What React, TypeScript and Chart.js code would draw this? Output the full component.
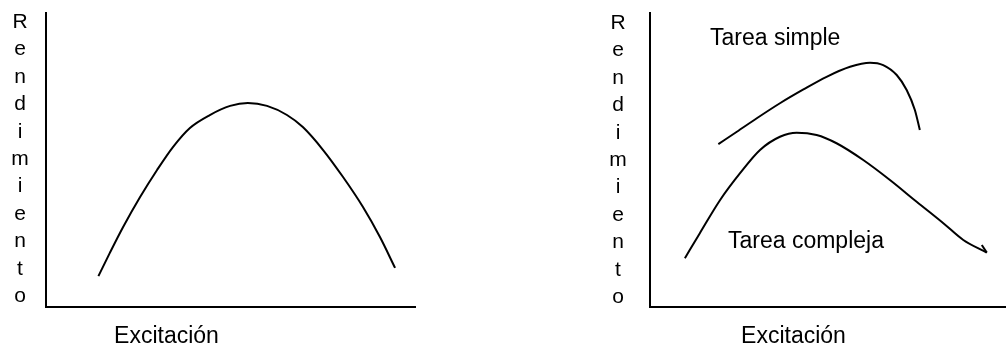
import React, { useEffect, useRef } from "react";
import { Chart, registerables } from "chart.js";

Chart.register(...registerables);

// ---- Data ----
const yAxisLetters = ["R", "e", "n", "d", "i", "m", "i", "e", "n", "t", "o"];
const xAxisLabel = "Excitación";
const simpleLabel = "Tarea simple";
const complexLabel = "Tarea compleja";

// Left panel: inverted-U curve (excitación vs rendimiento), arbitrary 0-100 units
const leftX = [14.2, 17.3, 20.9, 25.5, 30.1, 34.4, 39.0, 44.4, 49.9, 54.7, 59.9, 65.3, 69.6, 75.1, 80.5, 85.9, 90.5, 94.6];
const leftY = [10.5, 18.4, 27.2, 37.4, 46.6, 54.4, 60.9, 65.3, 68.4, 69.4, 68.4, 65.3, 61.2, 53.4, 44.2, 34.0, 23.8, 13.3];

// Right panel: simple task
const simpleX = [19.2, 24.4, 30.0, 36.5, 43.1, 49.6, 56.2, 61.8, 65.5, 69.3, 72.1, 74.4, 75.8];
const simpleY = [55.4, 59.6, 64.2, 69.3, 74.0, 78.3, 81.7, 83.1, 82.3, 78.9, 73.8, 67.0, 60.2];

// Right panel: complex task
const complexX = [9.8, 14.0, 19.7, 25.3, 30.9, 36.5, 41.2, 46.8, 52.4, 59.9, 67.4, 74.9, 82.4, 88.0, 94.6];
const complexY = [16.6, 25.1, 36.4, 45.5, 53.4, 57.9, 59.3, 58.5, 55.7, 50.0, 43.2, 35.8, 28.5, 22.8, 18.5];

// small arrow hook at the end of the complex-task curve
const arrowX = [93.2, 94.6];
const arrowY = [21.1, 18.5];

const FONT = '"Liberation Sans", Arial, sans-serif';

type TextItem = {
  text: string;
  dx: number; // relative to chartArea.left
  y: number;
  align: CanvasTextAlign;
  size: number;
};

const textPlugin = {
  id: "freeText",
  afterDraw(chart: any, _args: any, opts: any) {
    const { ctx, chartArea } = chart;
    const items: TextItem[] = opts.items || [];
    ctx.save();
    ctx.fillStyle = "#000";
    ctx.textBaseline = "alphabetic";
    for (const it of items) {
      ctx.font = `${it.size}px ${FONT}`;
      ctx.textAlign = it.align;
      ctx.fillText(it.text, chartArea.left + it.dx, it.y);
    }
    ctx.restore();
  },
};

function pts(xs: number[], ys: number[]) {
  return xs.map((x, i) => ({ x, y: ys[i] }));
}

function lineDs(xs: number[], ys: number[], mono = true) {
  return {
    data: pts(xs, ys),
    borderColor: "#000",
    borderWidth: 2,
    pointRadius: 0,
    fill: false,
    cubicInterpolationMode: mono ? ("monotone" as const) : ("default" as const),
    tension: mono ? 0.4 : 0,
  };
}

function makeConfig(datasets: any[], padding: any, items: TextItem[]) {
  const axis = (extra: any = {}) => ({
    type: "linear" as const,
    min: 0,
    max: 100,
    display: true,
    grid: { display: false, drawTicks: false },
    ticks: { display: false },
    border: { display: true, color: "#000", width: 2 },
    ...extra,
  });
  return {
    type: "line" as const,
    data: { datasets },
    options: {
      animation: false as const,
      responsive: false,
      maintainAspectRatio: false,
      layout: { padding },
      plugins: {
        legend: { display: false },
        tooltip: { enabled: false },
        freeText: { items },
      },
      scales: {
        x: axis(),
        y: axis(),
      },
    },
    plugins: [textPlugin],
  };
}

function letterItems(dx: number, firstBaseline: number, step: number): TextItem[] {
  return yAxisLetters.map((t, i) => ({
    text: t,
    dx,
    y: firstBaseline + i * step,
    align: "center" as CanvasTextAlign,
    size: 21,
  }));
}

const PanelChart: React.FC<{ config: any; width: number; height: number; left: number }> = ({ config, width, height, left }) => {
  const ref = useRef<HTMLCanvasElement | null>(null);
  useEffect(() => {
    if (!ref.current) return;
    const chart = new Chart(ref.current, config);
    return () => chart.destroy();
  }, [config]);
  return (
    <canvas
      ref={ref}
      width={width}
      height={height}
      style={{ position: "absolute", left, top: 0, width, height }}
    />
  );
};

const leftConfig = makeConfig(
  [lineDs(leftX, leftY)],
  { left: 46, top: 13, right: 88, bottom: 41 },
  [
    ...letterItems(-26, 28, 27.4),
    { text: xAxisLabel, dx: 120.5, y: 343, align: "center", size: 23 },
  ]
);

const rightConfig = makeConfig(
  [lineDs(simpleX, simpleY), lineDs(complexX, complexY), lineDs(arrowX, arrowY, false)],
  { left: 147, top: 13, right: 0, bottom: 41 },
  [
    ...letterItems(-32, 29, 27.4),
    { text: xAxisLabel, dx: 143.5, y: 343, align: "center", size: 23 },
    { text: simpleLabel, dx: 60, y: 45, align: "left", size: 23 },
    { text: complexLabel, dx: 78, y: 247.5, align: "left", size: 23 },
  ]
);

export default function App() {
  return (
    <div style={{ position: "fixed", left: 0, top: 0, width: 1006, height: 348, background: "#fff" }}>
      <PanelChart config={leftConfig} width={503} height={348} left={0} />
      <PanelChart config={rightConfig} width={503} height={348} left={503} />
    </div>
  );
}
